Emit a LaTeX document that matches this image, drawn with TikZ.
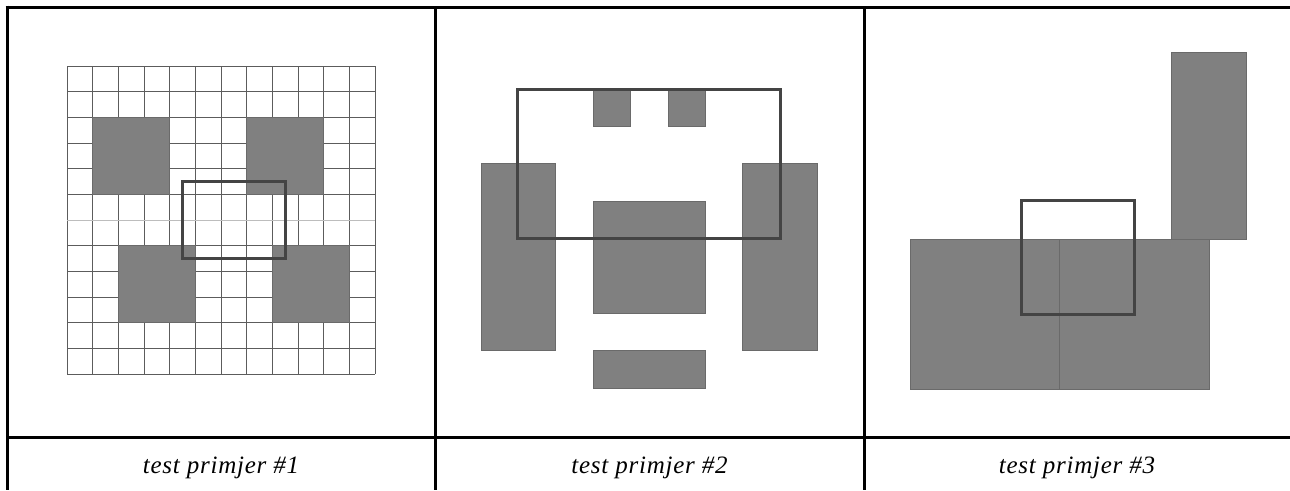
\documentclass[tikz,border=0pt]{standalone}
\usepackage{fontspec}
\setmainfont{Liberation Serif}
\definecolor{blockgray}{HTML}{808080}
\definecolor{blockedge}{HTML}{6A6A6A}
\definecolor{windowgray}{HTML}{444444}
\definecolor{gridcol}{HTML}{5C5C5C}
\definecolor{gridlight}{HTML}{BDBDBD}
\begin{document}
\begin{tikzpicture}[x=1pt,y=-1pt,
  frame/.style={line width=3pt,black},
  gridln/.style={line width=0.9pt,draw=gridcol},
  gridlt/.style={line width=0.9pt,draw=gridlight},
  block/.style={fill=blockgray,draw=blockedge,line width=0.8pt},
  window/.style={draw=windowgray,line width=3pt},
  caption/.style={font=\fontsize{25}{30}\selectfont\itshape\addfontfeature{LetterSpace=3},anchor=base,inner sep=0pt}]
\useasboundingbox (0,0) rectangle (1290,490);
\fill[white] (0,0) rectangle (1290,490);

% ---------- panel 1: grid ----------
\def\cs{25.67}
\foreach \i in {0,...,12}{
  \draw[gridln] ({67+\i*\cs},66) -- ({67+\i*\cs},{66+12*\cs});
}
\foreach \j in {0,1,2,3,4,5,7,8,9,10,11,12}{
  \draw[gridln] (67,{66+\j*\cs}) -- ({67+12*\cs},{66+\j*\cs});
}
\draw[gridlt] (67,{66+6*\cs}) -- ({67+12*\cs},{66+6*\cs});
% blocks (cell coordinates)
\foreach \ax/\ay in {1/2, 7/2, 2/7, 8/7}{
  \draw[block] ({67+\ax*\cs},{66+\ay*\cs}) rectangle ({67+(\ax+3)*\cs},{66+(\ay+3)*\cs});
}
\draw[window] ({67+4.5*\cs},{66+4.5*\cs}) rectangle ({67+8.5*\cs},{66+7.5*\cs});

% ---------- panel 2 ----------
\def\u{37.4}
\def\ox{481}
\def\oy{89}
\draw[block] ({\ox+3*\u},\oy) rectangle ({\ox+4*\u},{\oy+1*\u});
\draw[block] ({\ox+5*\u},\oy) rectangle ({\ox+6*\u},{\oy+1*\u});
\draw[block] (\ox,{\oy+2*\u}) rectangle ({\ox+2*\u},{\oy+7*\u});
\draw[block] ({\ox+7*\u},{\oy+2*\u}) rectangle ({\ox+9*\u},{\oy+7*\u});
\draw[block] ({\ox+3*\u},{\oy+3*\u}) rectangle ({\ox+6*\u},{\oy+6*\u});
\draw[block] ({\ox+3*\u},{\oy+7*\u}) rectangle ({\ox+6*\u},{\oy+8*\u});
\draw[window] ({\ox+0.97*\u},\oy) rectangle ({\ox+8*\u},{\oy+4*\u});

% ---------- panel 3 ----------
\def\px{910}
\def\py{239.3}
\draw[block] (\px,\py) rectangle ({\px+4*\u},{\py+4*\u});
\draw[block] ({\px+4*\u},\py) rectangle ({\px+8*\u},{\py+4*\u});
\draw[block] ({\px+7*\u},{\py-5*\u}) rectangle ({\px+9*\u},\py);
\draw[window] ({\px+2.97*\u},{\py-1.03*\u}) rectangle ({\px+6*\u},{\py+2*\u});

% ---------- table frame ----------
\draw[frame] (5.5,7) -- (1290,7);
\draw[frame] (7,5.5) -- (7,490);
\draw[frame] (435,7) -- (435,490);
\draw[frame] (864,7) -- (864,490);
\draw[frame] (7,437) -- (1290,437);

% ---------- captions ----------
\node[caption] (c1) at (221,473) {test primjer \#1};
\node[caption] (c2) at (649.5,473) {test primjer \#2};
\node[caption] (c3) at (1077,473) {test primjer \#3};
\end{tikzpicture}
\end{document}
